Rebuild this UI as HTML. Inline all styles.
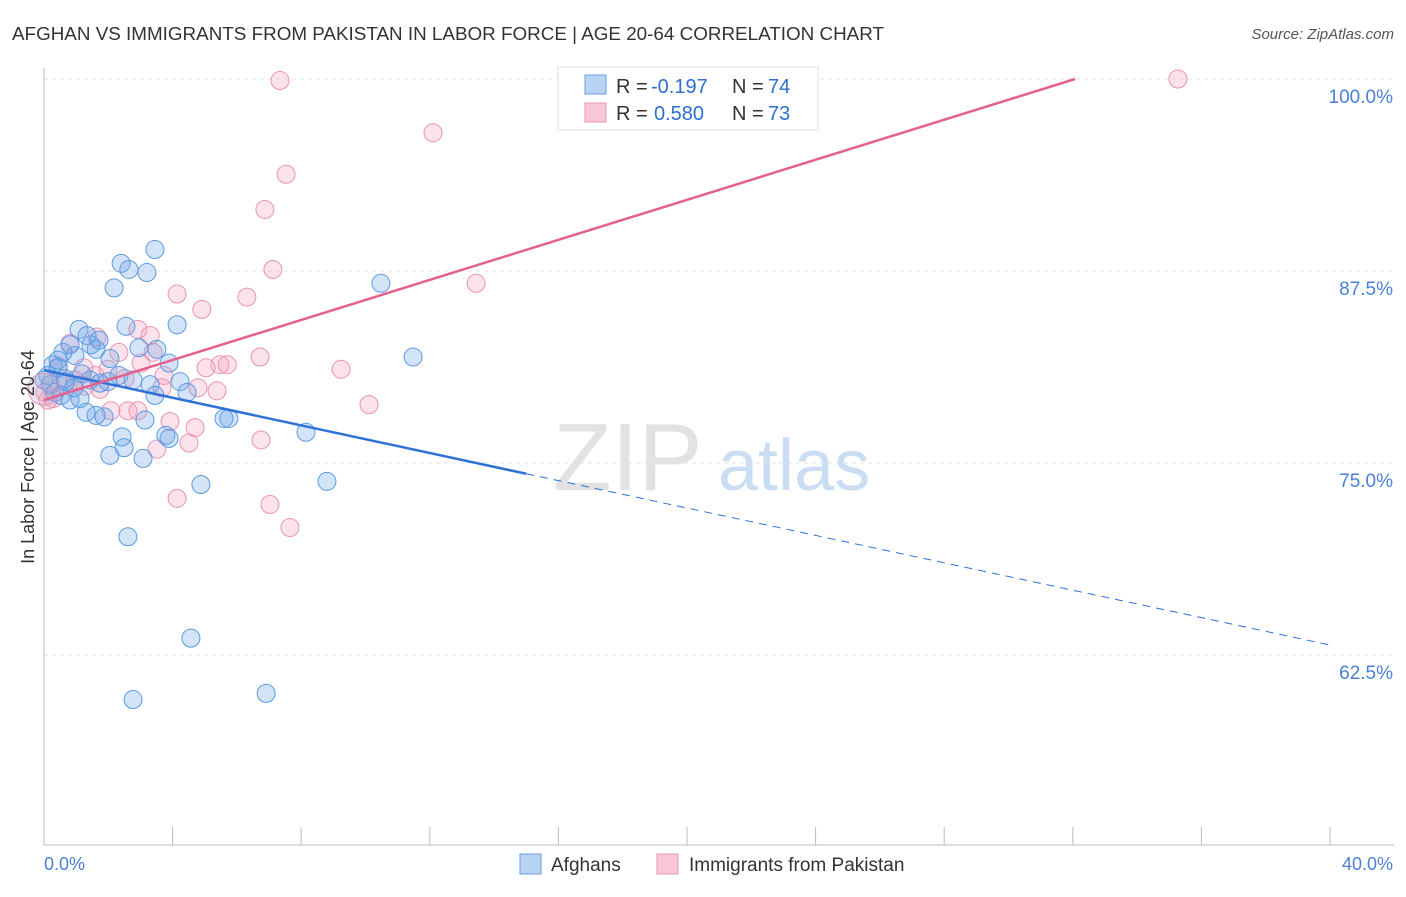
<!DOCTYPE html>
<html><head><meta charset="utf-8"><style>
body{margin:0;background:#fff;font-family:"Liberation Sans",sans-serif;}
svg text{font-family:"Liberation Sans",sans-serif;}
</style></head><body>
<svg id="chart" width="1406" height="892" viewBox="0 0 1406 892" xmlns="http://www.w3.org/2000/svg">
<text x="12" y="40" font-size="18" fill="#333" textLength="872" lengthAdjust="spacingAndGlyphs">AFGHAN VS IMMIGRANTS FROM PAKISTAN IN LABOR FORCE | AGE 20-64 CORRELATION CHART</text>
<text x="1394" y="39" font-size="15" fill="#555" font-style="italic" text-anchor="end">Source: ZipAtlas.com</text>
<text x="553" y="490" font-size="96" fill="#d0d0d0" font-family="Liberation Serif" opacity="0.6">ZIP</text>
<text x="718" y="490" font-size="72" fill="#aac8ea" opacity="0.6">atlas</text>
<g id="grid"></g>
<g id="axes"></g>
<g id="pts"></g>
<g id="trend"></g>
<text transform="translate(34,457) rotate(-90)" font-size="18" fill="#333" text-anchor="middle">In Labor Force | Age 20-64</text>
<text x="44" y="870" font-size="18" fill="#4a7fd4">0.0%</text>
<text x="1393" y="870" font-size="18" fill="#4a7fd4" text-anchor="end">40.0%</text>
<g>
<rect x="558" y="67" width="260" height="63" fill="#fff" stroke="#ddd"/>
<rect x="585" y="75" width="21" height="19" fill="#b8d3f3" stroke="#6aa0e0"/>
<rect x="585" y="103" width="21" height="19" fill="#f8c8d8" stroke="#eb94b2"/>
<text x="616" y="93" font-size="20" fill="#333">R =</text>
<text x="651" y="93" font-size="20" fill="#2d6fd0">-0.197</text>
<text x="732" y="93" font-size="20" fill="#333">N =</text>
<text x="768" y="93" font-size="20" fill="#2d6fd0">74</text>
<text x="616" y="120" font-size="20" fill="#333">R =</text>
<text x="654" y="120" font-size="20" fill="#2d6fd0">0.580</text>
<text x="732" y="120" font-size="20" fill="#333">N =</text>
<text x="768" y="120" font-size="20" fill="#2d6fd0">73</text>
</g>
<g>
<rect x="520" y="854" width="21" height="20" fill="#b8d3f3" stroke="#6aa0e0"/>
<text x="551" y="871" font-size="19" fill="#333">Afghans</text>
<rect x="657" y="854" width="21" height="20" fill="#f8c8d8" stroke="#eb94b2"/>
<text x="689" y="871" font-size="19" fill="#333">Immigrants from Pakistan</text>
</g>
</svg>
<script>
const yTicks=[100,87.5,75,62.5];
const yTickLabels=["100.0%","87.5%","75.0%","62.5%"];
const xTicks=[0,4,8,12,16,20,24,28,32,36,40];
const blueX=[3.45,2.40,2.64,3.20,2.18,10.48,4.14,2.55,1.09,1.34,1.71,0.59,0.96,1.62,0.81,2.05,2.95,3.51,3.89,11.48,0.28,0.44,0.65,1.18,1.43,1.74,1.99,2.33,2.77,3.30,4.23,4.45,3.45,0.19,0.34,0.81,0.53,1.12,1.31,1.62,1.87,3.14,3.79,3.89,5.60,5.75,8.15,2.43,2.05,2.49,3.08,4.88,8.80,2.61,4.57,2.77,6.91,0,0.12,0.44,1.46,0.68,0.93];
const blueY=[88.9,88.0,87.6,87.4,86.4,86.7,84.0,83.9,83.7,83.3,83.0,82.2,82.0,82.4,82.7,81.8,82.5,82.4,81.5,81.9,81.4,81.2,80.5,80.8,80.4,80.2,80.3,80.7,80.4,80.1,80.3,79.6,79.4,80.1,79.6,79.1,79.4,79.2,78.3,78.1,78.0,77.8,76.8,76.6,77.9,77.9,77.0,76.7,75.5,76.0,75.3,73.6,73.8,70.2,63.6,59.6,60.0,80.4,80.7,81.7,82.7,80.3,79.9];
const pinkX=[7.34,16.39,35.27,12.10,7.53,6.87,7.12,13.44,4.14,6.31,4.91,2.92,1.65,0.81,2.33,3.39,6.72,5.47,5.70,5.04,9.24,3.02,3.73,1.99,1.24,0.44,0.96,1.59,2.52,3.67,4.79,5.38,0.03,0.28,0.65,1.28,10.11,2.08,2.61,2.92,3.92,4.70,6.75,4.51,3.51,4.14,7.03,7.65,3.30,1.74,0.12];
const pinkY=[99.9,99.9,100,96.5,93.8,91.5,87.6,86.7,86.0,85.8,85.0,83.7,83.2,82.8,82.2,82.2,81.9,81.4,81.4,81.2,81.1,81.5,80.7,81.1,81.2,81.3,80.4,80.7,80.5,79.9,79.9,79.7,79.6,79.2,80.1,80.0,78.8,78.4,78.4,78.4,77.7,77.3,76.5,76.3,75.9,72.7,72.3,70.8,83.3,79.8,79.1];
const blueTrend=[[0,81.05],[15.0,74.3],[40,63.15]];
const pinkTrend=[[0,79.1],[32.07,100]];
const X=v=>44+v*32.15, Y=v=>79+(100-v)*15.36;
const NS="http://www.w3.org/2000/svg";
function mk(tag,attrs,parent){const e=document.createElementNS(NS,tag);for(const k in attrs)e.setAttribute(k,attrs[k]);document.getElementById(parent).appendChild(e);return e;}
yTicks.forEach((t,i)=>{
 const l=mk('line',{x1:44,x2:1394,y1:Y(t),y2:Y(t),stroke:'#e2e2e2','stroke-dasharray':'4,4'},'grid');
 
 
 const tx=mk('text',{x:1393,y:Y(t)+24,'font-size':19,fill:'#4a7fd4','text-anchor':'end'},'grid');
 tx.textContent=yTickLabels[i];
 
 
});
const ax=mk('line',{x1:44,x2:44,y1:68,y2:845,stroke:'#bbb'},'axes');


const bx=mk('line',{x1:44,x2:1394,y1:845,y2:845,stroke:'#bbb'},'axes');


xTicks.forEach(t=>{const l=mk('line',{x1:X(t),x2:X(t),y1:827,y2:845,stroke:'#bbb'},'axes');
 
 });
function pts(xs,ys,fill,stroke,name){xs.forEach((x,i)=>{const c=mk('circle',{cx:X(x),cy:Y(ys[i]),r:9,fill:fill,stroke:stroke,'stroke-width':1},'pts');
 
 });}
pts(pinkX,pinkY,'rgba(244,160,188,0.3)','#ec93b1','pakistan-point');
pts(blueX,blueY,'rgba(110,165,232,0.3)','#5b9be3','afghan-point');
const big=mk('circle',{cx:X(0),cy:Y(79.8),r:16,fill:'rgba(200,160,200,0.3)',stroke:'#d39ac0'},'pts');


const b1=mk('line',{x1:X(blueTrend[0][0]),y1:Y(blueTrend[0][1]),x2:X(blueTrend[1][0]),y2:Y(blueTrend[1][1]),stroke:'#2f72d6','stroke-width':2.5},'trend');


const b2=mk('line',{x1:X(blueTrend[1][0]),y1:Y(blueTrend[1][1]),x2:X(blueTrend[2][0]),y2:Y(blueTrend[2][1]),stroke:'#2f72d6','stroke-width':1,'stroke-dasharray':'8,6'},'trend');


const p1=mk('line',{x1:X(pinkTrend[0][0]),y1:Y(pinkTrend[0][1]),x2:X(pinkTrend[1][0]),y2:Y(pinkTrend[1][1]),stroke:'#e4618e','stroke-width':2.5},'trend');


</script>
</body></html>
